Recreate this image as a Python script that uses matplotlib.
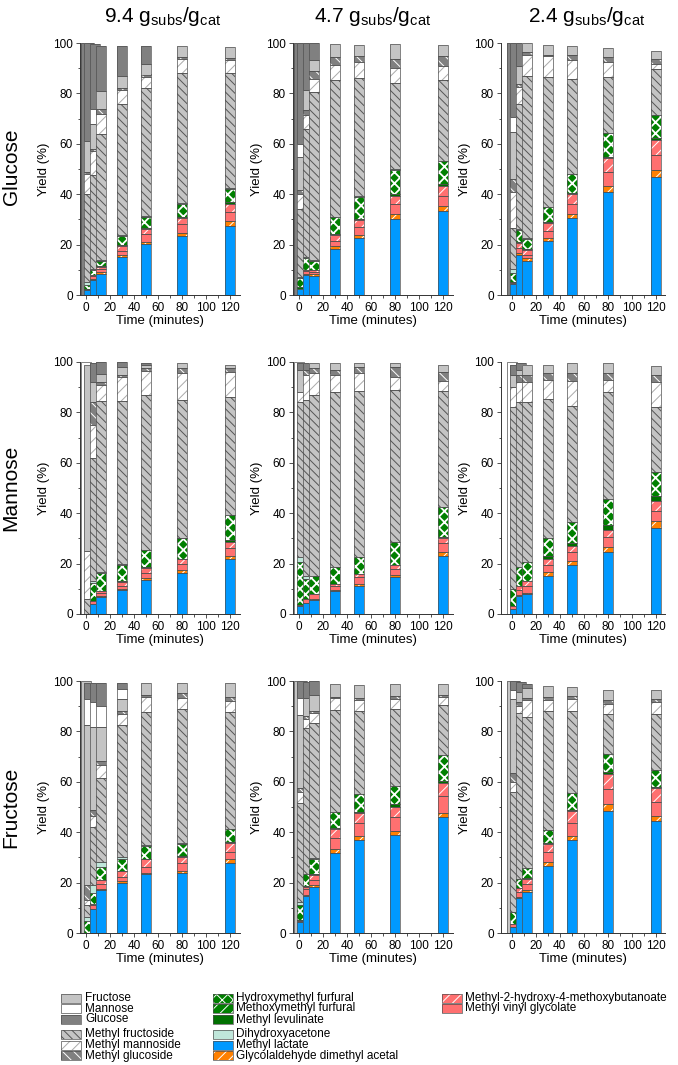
import numpy as np
import matplotlib
matplotlib.use('Agg')
import matplotlib.pyplot as plt
from matplotlib.patches import Rectangle
from matplotlib.ticker import MultipleLocator

plt.rcParams['font.family'] = ['Liberation Sans', 'DejaVu Sans']
plt.rcParams['mathtext.fontset'] = 'custom'
plt.rcParams['mathtext.rm'] = 'Liberation Sans'
plt.rcParams['hatch.linewidth'] = 0.7

# sampling times (min); the first bar is the substrate before reaction
times = [0, 2.5, 7.5, 12.5, 30, 50, 80, 120]

# stacking order, bottom to top
layers = ['Methyl lactate', 'Glycolaldehyde dimethyl acetal', 'Methyl vinyl glycolate',
          'Methyl-2-hydroxy-4-methoxybutanoate', 'Methyl levulinate', 'Methoxymethyl furfural',
          'Hydroxymethyl furfural', 'Dihydroxyacetone', 'Methyl fructoside', 'Methyl mannoside',
          'Methyl glucoside', 'Fructose', 'Mannose', 'Glucose']

# face colour, hatch, hatch colour
styles = {
    'Fructose': ('#c4c4c4', None, None),
    'Mannose': ('#ffffff', None, None),
    'Glucose': ('#808080', None, None),
    'Methyl fructoside': ('#c4c4c4', '\\\\\\\\', '#555555'),
    'Methyl mannoside': ('#ffffff', '///', '#aaaaaa'),
    'Methyl glucoside': ('#808080', '\\\\\\', '#ffffff'),
    'Hydroxymethyl furfural': ('#008000', 'xxx', '#ffffff'),
    'Methoxymethyl furfural': ('#008000', '///', '#ffffff'),
    'Methyl levulinate': ('#007000', None, None),
    'Dihydroxyacetone': ('#bfe6da', None, None),
    'Methyl lactate': ('#0099ff', None, None),
    'Glycolaldehyde dimethyl acetal': ('#ff8000', '///', '#ffffff'),
    'Methyl-2-hydroxy-4-methoxybutanoate': ('#ff7070', '///', '#ffffff'),
    'Methyl vinyl glycolate': ('#ff7070', None, None),
}

glucose_94 = [
    [0, 0, 0, 0, 0, 0, 0, 0, 0, 0, 0, 0, 0, 100],
    [2, 2, 2, 2, 2.5, 2.5, 4, 5, 40, 48, 49, 61, 61, 100],
    [6, 6.5, 7.5, 8, 8, 8, 10, 10.5, 47.5, 57, 58, 68, 74, 99.5],
    [8.3, 9, 10.5, 11, 11.5, 11.5, 13.5, 14, 63.7, 72, 73.7, 81, 81, 99],
    [15.2, 15.8, 17.5, 19.5, 20, 20, 23.6, 24, 75.6, 81.2, 82, 86.8, 86.8, 98.8],
    [20.1, 21, 24.2, 26.3, 26.5, 26.5, 31, 31.3, 82.3, 86.5, 87.5, 91.8, 91.8, 99],
    [23.5, 24.5, 28, 30.6, 31, 31, 36.3, 36.5, 88.1, 93.8, 94.5, 98.7],
    [27.5, 29.3, 33, 36.3, 36.8, 36.8, 42.1, 42.5, 88, 93.1, 94, 98.5],
]
glucose_47 = [
    [0, 0, 0, 0, 0, 0, 0, 0, 0, 0, 0, 0, 0, 100],
    [2.5, 2.5, 2.5, 2.5, 3, 3, 6.6, 7.3, 34, 40, 41.6, 54.6, 60, 100],
    [7.9, 8.5, 9.5, 10, 10, 10, 14.5, 15, 66, 71.3, 73.6, 81.2, 81.2, 100],
    [7.5, 8.3, 9.3, 10, 10, 10, 13.6, 14, 80.6, 85.9, 88.8, 93.1, 93.1, 100],
    [18.2, 19.4, 21.5, 24, 24.2, 24.2, 31, 31, 85.2, 91.4, 94.4, 99.5],
    [22.6, 24, 27.1, 29.7, 30.2, 30.2, 39, 39.4, 86.3, 92.5, 95, 99.3],
    [30, 32.1, 36.1, 39.4, 40, 40, 49.5, 50, 84, 90, 93.5, 99.5],
    [33.4, 35.4, 39.4, 43.3, 44, 44, 53.2, 53.2, 85.2, 90.8, 94.7, 99.3],
]
glucose_24 = [
    [0, 0, 0, 0, 0, 0, 0, 0, 0, 0, 0, 0, 0, 100],
    [4.2, 4.2, 4.8, 4.8, 5.3, 5.3, 8.6, 10.3, 26.4, 41, 46.2, 64.5, 70.7, 100],
    [15.8, 16.5, 18.5, 20.5, 21, 21, 25.8, 26.3, 75.6, 82.6, 83.9, 90.8, 90.8, 100],
    [13.3, 14.5, 16, 17.8, 18.2, 18.2, 22.3, 22.7, 87, 95.1, 96.4, 100],
    [21.5, 22.7, 25.4, 28.4, 28.8, 28.8, 35, 35, 86.5, 94.7, 95.2, 99.4],
    [30.4, 32, 36.3, 40, 40.3, 40.3, 48, 48, 85.9, 93.4, 95.1, 98.8],
    [41, 43.3, 48.9, 54.2, 54.7, 54.7, 64.1, 64.1, 86.5, 92.5, 94.3, 98],
    [46.9, 49.5, 55.7, 61.7, 62.3, 62.3, 71.3, 71.3, 89.6, 91.8, 93.5, 97],
]
mannose_94 = [
    [0, 0, 0, 0, 0, 0, 0, 0, 0, 0, 0, 0, 100],
    [0, 0, 0, 0, 0, 0, 0, 0, 6, 25, 25, 98.8],
    [4, 4, 5, 5, 5, 5, 12.2, 13, 62, 75, 84, 92, 92, 99.5],
    [6.7, 7.2, 8.2, 9.2, 9.2, 9.2, 16.1, 16.6, 84.5, 90.9, 92.2, 95.1, 95.1, 100],
    [9.5, 10, 11.3, 12.6, 13, 13, 19.4, 19.8, 84.7, 94.2, 95, 98.1, 98.1, 100],
    [13.5, 14.3, 16.1, 18.1, 18.5, 18.5, 25.4, 25.4, 86.9, 96.4, 97.5, 99, 99, 99.8],
    [16.4, 17.3, 19.7, 21.7, 22, 22, 30, 30.3, 84.9, 95.8, 97.5, 99.5],
    [21.7, 23, 26.3, 28.7, 29.2, 29.2, 39.3, 39.3, 86.2, 96.2, 97.5, 99],
]
mannose_47 = [
    [0, 0, 0, 0, 0, 0, 0, 0, 0, 0, 0, 0, 100],
    [3, 3, 3.5, 3.5, 3.5, 3.5, 20.5, 22.5, 84, 88, 88, 97, 97, 99.5],
    [4.5, 4.5, 6, 6, 6, 6, 14, 15, 85, 95, 97, 97, 97, 99.5],
    [5.5, 6, 8, 8, 8, 8, 15, 15, 87, 95.5, 97.5, 99.5],
    [9, 9.5, 11, 12, 12, 12, 18.5, 18.5, 88, 95, 97, 99.5],
    [11, 12, 14.5, 16, 16, 16, 22.5, 22.5, 88.5, 95.5, 98, 99.5],
    [14.5, 15.5, 18, 19.5, 19.5, 19.5, 28.5, 28.5, 89, 94, 98, 99.5],
    [23, 24.5, 28, 30, 30.5, 30.5, 42.5, 42.5, 88.5, 92.5, 96, 99],
]
mannose_24 = [
    [0, 0, 0, 0, 0, 0, 0, 0, 0, 0, 0, 0, 100],
    [2, 2, 3, 3, 3, 3, 10, 10, 82, 90, 90, 95, 95, 99],
    [7, 7.5, 9.5, 11, 11, 11, 18.5, 18.5, 84, 92, 95, 97, 97, 99.5],
    [8, 8.5, 11, 13, 13, 13, 20.5, 20.5, 84, 92, 95, 99],
    [15, 16.5, 19.5, 22, 23, 23, 30, 30, 85.5, 93, 95.5, 99],
    [19.5, 21, 24.5, 27, 28, 28, 36.5, 36.5, 82.5, 92.5, 95.5, 99.5],
    [24.5, 26.5, 30.5, 33.5, 35.5, 35.5, 45.5, 45.5, 88, 93, 95.5, 99.5],
    [34, 37, 41, 45, 47, 47, 56.5, 56.5, 82, 92, 95, 98.5],
]
fructose_94 = [
    [0, 0, 0, 0, 0, 0, 0, 0, 0, 0, 0, 100],
    [0, 0, 0, 0, 0, 0, 4.8, 6.2, 11, 13, 19, 82.5, 93, 99.3],
    [9.4, 9.4, 11.1, 11.5, 11.5, 11.5, 16, 19, 42.2, 46.3, 48.8, 81.9, 91.8, 99.3],
    [17.1, 17.5, 19.4, 21, 21, 21, 26.3, 28.3, 61.6, 66.7, 68.3, 81.6, 90.1, 99.3],
    [19.7, 20.5, 22.4, 24.5, 24.7, 24.7, 29.4, 30, 82.5, 86.9, 88.1, 92.7, 97, 99.3],
    [23.3, 24, 26.3, 29.2, 29.5, 29.5, 34.7, 35, 87.8, 93.5, 94.4, 99.3],
    [23.9, 24.8, 27.6, 30, 30.4, 30.4, 35.3, 35.7, 88.8, 93.1, 95.1, 99.3],
    [27.9, 29.2, 32.3, 35.6, 36, 36, 41.3, 41.3, 87.6, 92.2, 93.8, 99.1],
]
fructose_47 = [
    [0, 0, 0, 0, 0, 0, 0, 0, 0, 0, 0, 100],
    [4.2, 4.2, 4.7, 4.7, 5.2, 5.2, 11.1, 12.4, 51.5, 56, 57.4, 86.5, 93.4, 100],
    [14.6, 15, 17.5, 18.3, 18.7, 18.7, 23.5, 23.5, 81.5, 84.9, 86.2, 93.1, 93.1, 99.5],
    [18.3, 19, 21, 23, 23.3, 23.3, 29.2, 29.6, 83.5, 87.5, 88, 94.5, 94.5, 100],
    [31.9, 33.2, 37.8, 41.3, 41.8, 41.8, 48.1, 48.1, 88.5, 93.1, 93.8, 98.7],
    [37, 38.5, 43.5, 47.5, 48, 48, 55, 55, 88, 92.5, 93.3, 98.5],
    [39, 40.5, 46, 50, 51, 51, 58.5, 58.5, 89, 93, 94, 99],
    [46, 47.5, 54.5, 59.5, 60.5, 60.5, 70.5, 70.5, 90.5, 93.5, 94.5, 99],
]
fructose_24 = [
    [0, 0, 0, 0, 0, 0, 0, 0, 0, 0, 0, 100],
    [2.5, 2.5, 3.5, 3.5, 3.5, 3.5, 8.2, 8.5, 55.8, 59.8, 63.4, 92.9, 96.4, 100],
    [13.8, 14.3, 16.1, 17.7, 18, 18, 21.6, 21.6, 87.2, 90.2, 91.5, 95.8, 95.8, 99.5],
    [16.1, 17, 19.5, 21.5, 22, 22, 25.7, 25.7, 85.9, 92.5, 93.4, 97.1, 97.1, 99],
    [26.7, 28, 32.1, 35.2, 35.6, 35.6, 40.7, 40.7, 88.1, 92.5, 93.5, 98],
    [37, 38.5, 43.5, 48.5, 49, 49, 55.5, 55.5, 88, 93, 94, 97.5],
    [48.5, 51, 57, 63, 64, 64, 71, 71, 87, 91, 92.5, 96.5],
    [44.5, 46.5, 52, 57.5, 58, 58, 64.5, 64.5, 87, 91.5, 93, 96.5],
]

rows = ['Glucose', 'Mannose', 'Fructose']
loadings = ['9.4', '4.7', '2.4']
panels = [[glucose_94, glucose_47, glucose_24],
          [mannose_94, mannose_47, mannose_24],
          [fructose_94, fructose_47, fructose_24]]

W, H = 678, 1065
BAR_W = 8.4
EDGE = '#505050'

fig = plt.figure(figsize=(W / 100, H / 100), dpi=100)


def fig_box(x0, y_top, w, h):
    return [x0 / W, 1 - (y_top + h) / H, w / W, h / H]


def draw_piece(ax, x, b, h, name, z):
    face, hatch, hc = styles[name]
    ax.bar(x, h, BAR_W, bottom=b, color=face, lw=0, zorder=z)
    if hatch:
        lw = 1.3 if name == 'Hydroxymethyl furfural' else 0.7
        with plt.rc_context({'hatch.linewidth': lw}):
            ax.bar(x, h, BAR_W, bottom=b, facecolor='none', edgecolor=hc,
                   hatch=hatch, lw=0, zorder=z)
    ax.bar(x, h, BAR_W, bottom=b, fill=False, edgecolor=EDGE, lw=0.5, zorder=z)


col_left = [80, 293, 501]
col_xmin = [-5, -5, -9]
row_top = [43, 362, 681]

for r in range(3):
    for c in range(3):
        xmin, xmax = col_xmin[c], 128
        ax = fig.add_axes(fig_box(col_left[c], row_top[r], (xmax - xmin) * 1.2, 252))
        for j, t in enumerate(times):
            tops = list(panels[r][c][j])
            tops += [tops[-1]] * (len(layers) - len(tops))
            prev = 0
            for name, top in zip(layers, tops):
                if top - prev > 0:
                    draw_piece(ax, t, prev, top - prev, name, j + 2)
                prev = max(prev, top)
        ax.set_xlim(xmin, xmax)
        ax.set_ylim(0, 100)
        ax.set_xticks(range(0, 121, 20))
        ax.set_yticks(range(0, 101, 20))
        ax.xaxis.set_minor_locator(MultipleLocator(10))
        ax.yaxis.set_minor_locator(MultipleLocator(10))
        ax.tick_params(which='both', direction='out', labelsize=8.5, colors='#333333',
                       length=3, width=0.6, pad=2)
        ax.tick_params(which='minor', length=1.8)
        ax.tick_params(labelcolor='black')
        for s in ['top', 'right']:
            ax.spines[s].set_visible(False)
        for s in ['left', 'bottom']:
            ax.spines[s].set_color('#333333')
            ax.spines[s].set_linewidth(0.7)
        ax.set_ylabel('Yield (%)', fontsize=9.5, labelpad=2)
        ax.set_xlabel('Time (minutes)', fontsize=9.5, labelpad=1)

# column titles and row labels
title_x = [163, 373, 587]
for c in range(3):
    fig.text(title_x[c] / W, 1 - 17 / H,
             loadings[c] + r' g$_{\mathregular{subs}}$/g$_{\mathregular{cat}}$',
             ha='center', va='center', fontsize=15)
row_y = [167, 488, 807]
for r in range(3):
    fig.text(11 / W, 1 - row_y[r] / H, rows[r], rotation=90, ha='center', va='center',
             fontsize=15)

# legend drawn in pixel coordinates
lax = fig.add_axes([0, 0, 1, 1], zorder=-5)
lax.set_xlim(0, W)
lax.set_ylim(H, 0)
lax.axis('off')

legend_cols = [
    (61, 85, [('Fructose', 998), ('Mannose', 1008.5), ('Glucose', 1019.5),
              ('Methyl fructoside', 1034), ('Methyl mannoside', 1045), ('Methyl glucoside', 1055.5)]),
    (213, 236, [('Hydroxymethyl furfural', 998), ('Methoxymethyl furfural', 1008.5),
                ('Methyl levulinate', 1019.5), ('Dihydroxyacetone', 1034),
                ('Methyl lactate', 1045), ('Glycolaldehyde dimethyl acetal', 1055.5)]),
    (442, 465, [('Methyl-2-hydroxy-4-methoxybutanoate', 998), ('Methyl vinyl glycolate', 1008.5)]),
]
for sx, tx, entries in legend_cols:
    for name, y in entries:
        face, hatch, hc = styles[name]
        lax.add_patch(Rectangle((sx, y - 4.5), 20, 9, facecolor=face, lw=0))
        if hatch:
            lax.add_patch(Rectangle((sx, y - 4.5), 20, 9, facecolor='none', edgecolor=hc,
                                    hatch=hatch, lw=0))
        lax.add_patch(Rectangle((sx, y - 4.5), 20, 9, fill=False, edgecolor=EDGE, lw=0.5))
        lax.text(tx, y, name, fontsize=8.5, va='center', ha='left')

fig.savefig('out.png', dpi=100)
